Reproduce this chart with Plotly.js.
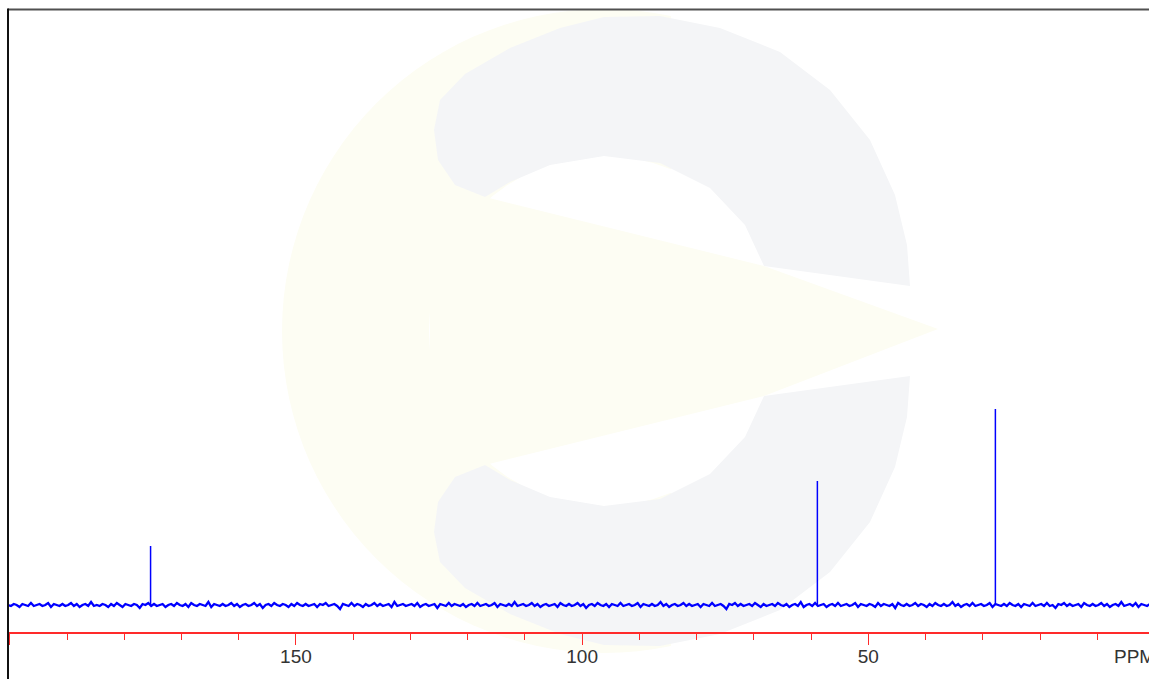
<!DOCTYPE html>
<html>
<head>
<meta charset="utf-8">
<script src="https://cdn.plot.ly/plotly-3.0.1.min.js"></script>
<style>html,body{margin:0;padding:0;background:#fff;overflow:hidden}#chart{width:1149px;height:679px}</style>
</head>
<body>
<div id="chart"></div>
<script>
// ---- data (13C NMR spectrum, ppm) ----
const noise = [
0,-1,1,0,-2,1,0,-1,2,-1,0,1,-1,0,2,-2,1,0,-1,1,
-1,0,2,-1,1,-2,0,1,-1,3,-1,0,-1,1,0,-2,1,-1,2,0,
-2,1,0,-1,1,0,-3,1,0,2,-1,1,-1,0,1,-2,0,1,-1,2,
0,-1,1,-2,2,0,-1,1,0,-1,3,-2,1,0,-1,1,-1,0,2,-1,
1,-2,0,1,-1,0,2,-1,1,-3,0,1,-1,2,0,-1,1,0,-2,1,
-1,2,0,-1,1,-1,0,1,-2,1,0,2,-1,0,1,-1,-4,1,0,-1,
2,-1,1,0,-2,1,-1,0,2,-1,1,-1,0,1,-2,3,-1,0,1,-1,
0,1,-1,2,-2,0,1,-1,0,1,-3,1,0,-1,2,-1,1,0,-1,1,
-2,0,1,-1,2,-1,0,1,-1,0,2,-2,1,0,-1,1,-1,3,-1,0,
1,-1,0,2,-1,1,-2,0,1,-1,0,1,-2,2,0,-1,1,-1,0,2,
-1,1,-3,0,1,-1,2,0,-1,1,-2,1,0,-1,2,-1,0,1,-1,0,
2,-2,1,0,-1,1,-1,0,3,-1,1,-2,0,1,-1,0,2,-1,1,-1,
0,1,-2,1,0,-1,2,-1,0,1,-1,-4,1,0,2,-1,1,-1,0,1,
-1,2,0,-2,1,-1,0,1,-1,2,0,-1,1,-2,0,1,-1,3,-2,0,
1,-1,2,-1,0,1,-2,0,1,-1,2,-1,0,1,-1,0,2,-2,1,0,
-1,1,0,-2,2,-1,1,0,-1,1,-3,2,0,-1,1,-1,0,2,-1,1,
0,-2,1,-1,2,0,-1,1,-1,0,3,-1,1,-2,0,1,-1,2,-1,0,
1,-1,0,2,-2,1,0,-1,1,-1,2,0,-1,1,-2,1,0,-1,2,-1,
0,1,-1,2,-1,0,-3,1,0,2,-1,1,-1,0,1,-2,2,0,-1,1,
-1,0,2,-1,1,-2,0,1,-1,3,-1,0,1,-1,2,-2,1,0,-1,1
];
const noiseStartPpm = 200.3;
const noiseStepPpm = -0.5;
const peakPpm = [175.4, 58.9, 27.8];
const peakHeight = [59, 124, 196];
const tickVals = [200, 150, 100, 50];
const tickText = ['', '150', '100', '50'];
const minorTickVals = [190, 180, 170, 160, 140, 130, 120, 110, 90, 80, 70, 60, 40, 30, 20, 10];
const axisUnit = 'PPM';

// ---- build traces ----
const px_ = [], py_ = [];
peakPpm.forEach((p, i) => { px_.push(p, p, null); py_.push(0, peakHeight[i], null); });

const traces = [
  {type: 'scatter', mode: 'lines', x0: noiseStartPpm, dx: noiseStepPpm, y: noise,
   line: {color: '#0000ff', width: 2.3}, hoverinfo: 'skip'},
  {type: 'scatter', mode: 'lines', x: px_, y: py_,
   line: {color: '#0000ff', width: 1.5}, hoverinfo: 'skip'}
];

// ---- watermark geometry (pixel -> paper) ----
const L = 8, W = 1141, B = 632, H = 622;
const fx = x => (x - L) / W;
const fy = y => (B - y) / H;
const poly = pts => 'M' + pts.map(p => fx(p[0]).toFixed(5) + ',' + fy(p[1]).toFixed(5)).join('L') + 'Z';
const cx = 604, cy = 331;
const yellow = '#fdfdf3', grey = '#f4f5f7';

const disk = [];
for (let a = 78; a <= 282; a += 3) {
  const r = 322, t = a * Math.PI / 180;
  disk.push([cx + r * Math.cos(t), cy - r * Math.sin(t)]);
}
const topLobe = [[434,130],[440,100],[465,74],[510,48],[560,28],[604,17],[660,16],[720,28],[780,52],[830,90],
  [870,140],[895,195],[907,245],[910,286],[764,266],[745,225],[710,188],[660,163],[604,156],[550,165],
  [510,182],[485,197],[455,185],[438,160]];
const botLobe = topLobe.map(p => [p[0], 2 * cy - p[1]]);
const wedge = [[430,190],[485,197],[764,266],[938,329],[764,396],[485,465],[430,472]];

const shapes = [
  {type: 'path', xref: 'paper', yref: 'paper', path: poly(disk), fillcolor: yellow, line: {width: 0}, layer: 'below'},
  {type: 'circle', xref: 'paper', yref: 'paper', x0: fx(cx - 175), x1: fx(cx + 175), y0: fy(cy + 175), y1: fy(cy - 175),
   fillcolor: '#ffffff', line: {width: 0}, layer: 'below'},
  {type: 'path', xref: 'paper', yref: 'paper', path: poly(wedge), fillcolor: yellow, line: {width: 0}, layer: 'below'},
  {type: 'path', xref: 'paper', yref: 'paper', path: poly(topLobe), fillcolor: grey, line: {width: 0}, layer: 'below'},
  {type: 'path', xref: 'paper', yref: 'paper', path: poly(botLobe), fillcolor: grey, line: {width: 0}, layer: 'below'},
  // frame
  {type: 'line', xref: 'paper', yref: 'paper', x0: 0, x1: 1.01, y0: fy(9.5), y1: fy(9.5), line: {color: '#505050', width: 2}, layer: 'above'},
  {type: 'line', xref: 'paper', yref: 'paper', x0: 0, x1: 0, y0: fy(680), y1: fy(8.5), line: {color: '#111111', width: 2}, layer: 'above'}
];

const labelFont = {family: 'Liberation Sans, Arial, sans-serif', size: 19, color: '#333333'};

const layout = {
  width: 1149, height: 679,
  margin: {l: 8, r: 0, t: 10, b: 47},
  paper_bgcolor: '#ffffff', plot_bgcolor: 'rgba(0,0,0,0)',
  showlegend: false,
  xaxis: {
    range: [200.31, 0.96], showgrid: false, zeroline: false,
    showline: true, linecolor: '#ff2a2a', linewidth: 1.5,
    ticks: 'outside', ticklen: 11, tickwidth: 1, tickcolor: '#ff2a2a',
    tickmode: 'array', tickvals: tickVals, ticktext: tickText,
    ticklabelstandoff: -4,
    tickfont: labelFont,
    minor: {tickmode: 'array', tickvals: minorTickVals, ticks: 'outside', ticklen: 6, tickwidth: 1, tickcolor: '#ff2a2a', showgrid: false},
    fixedrange: true
  },
  yaxis: {range: [-27, 595], visible: false, fixedrange: true},
  shapes: shapes,
  annotations: [{
    xref: 'paper', yref: 'paper', x: fx(1112), y: fy(656), xanchor: 'left', yanchor: 'middle',
    text: axisUnit, showarrow: false, font: labelFont
  }]
};

Plotly.newPlot('chart', traces, layout, {staticPlot: true, displayModeBar: false});
</script>
</body>
</html>
